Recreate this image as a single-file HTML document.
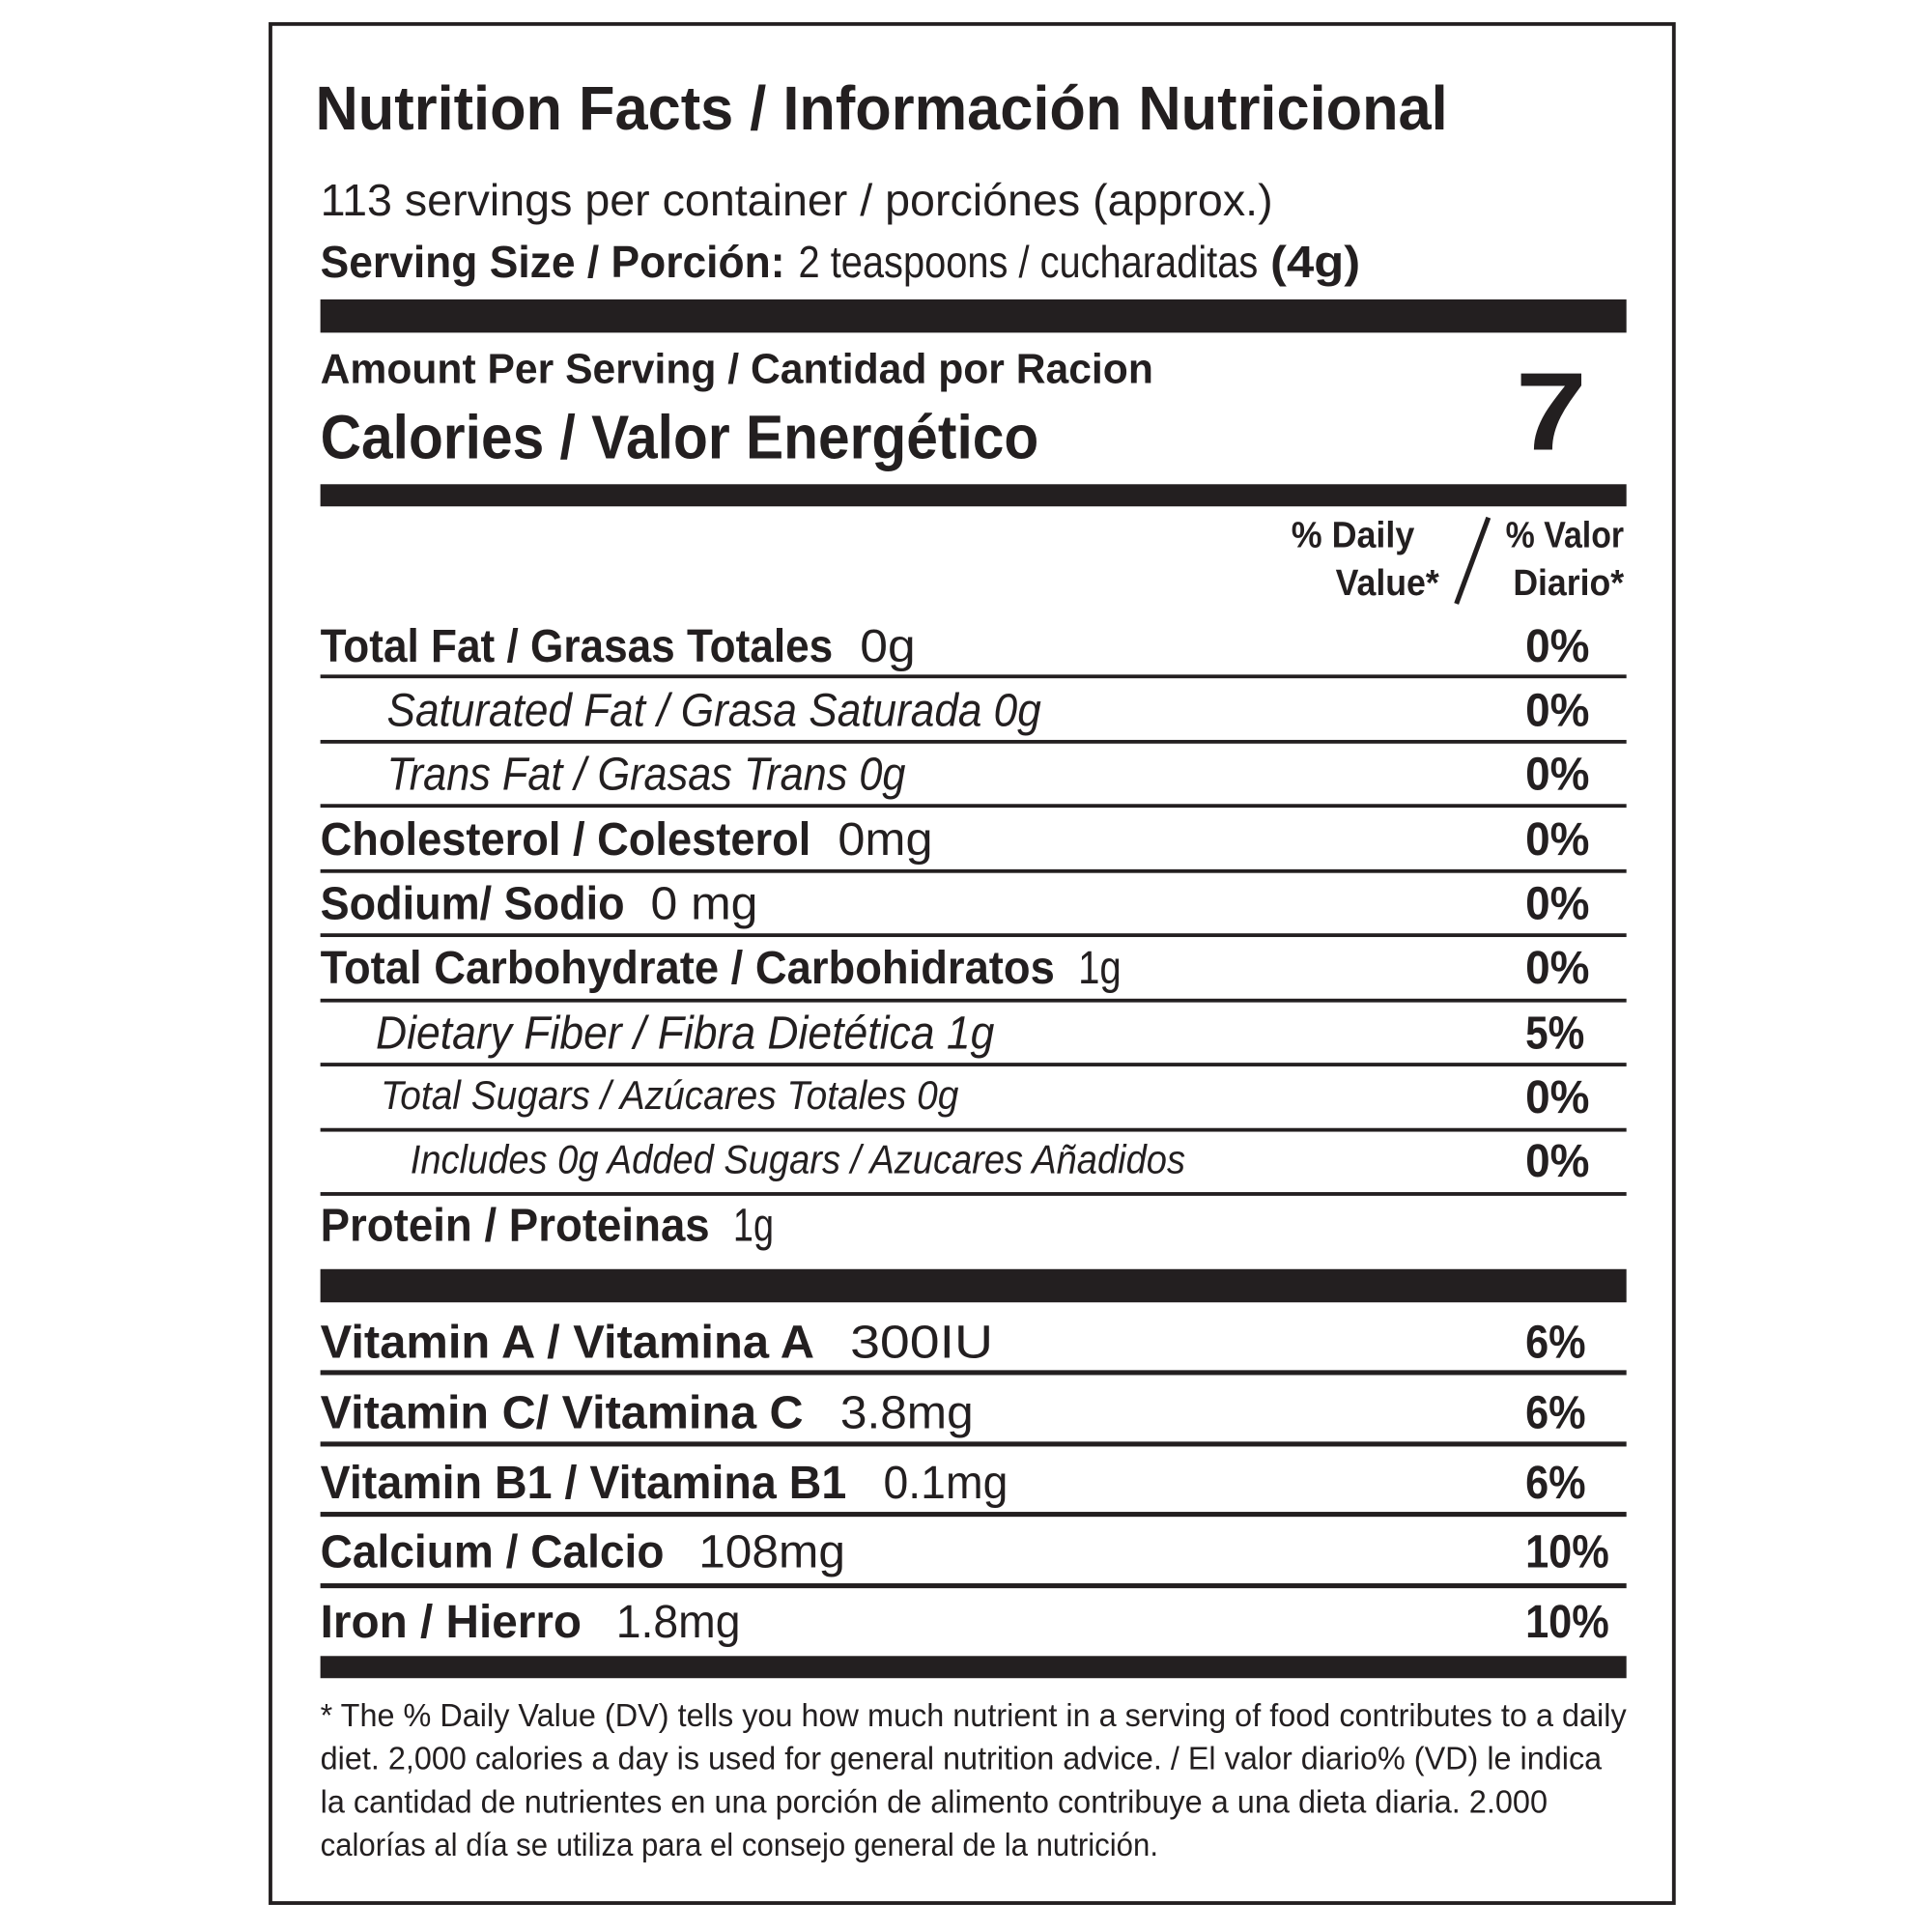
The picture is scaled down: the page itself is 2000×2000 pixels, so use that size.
<!DOCTYPE html>
<html><head><meta charset="utf-8"><style>
html,body{margin:0;padding:0;background:#fff;}
svg{display:block;}
text{font-family:"Liberation Sans",sans-serif;fill:#231f20;}
.b{font-weight:700;}
.i{font-style:italic;}
</style></head><body>
<svg width="2000" height="2000" viewBox="0 0 1568 1568" xmlns="http://www.w3.org/2000/svg">
<rect x="0" y="0" width="1568" height="1568" fill="#fff"/>
<rect x="219.5" y="19.5" width="1139" height="1525" fill="none" stroke="#231f20" stroke-width="3"/>

<text class="b" x="256" y="105" font-size="50" textLength="919" lengthAdjust="spacingAndGlyphs">Nutrition Facts / Información Nutricional</text>
<text x="260" y="175" font-size="36" textLength="773" lengthAdjust="spacingAndGlyphs">113 servings per container / porciónes (approx.)</text>
<text class="b" x="260" y="225" font-size="36" textLength="377" lengthAdjust="spacingAndGlyphs">Serving Size / Porción:</text>
<text x="648" y="225" font-size="36" textLength="373" lengthAdjust="spacingAndGlyphs">2 teaspoons / cucharaditas</text>
<text class="b" x="1031" y="225" font-size="36" textLength="73" lengthAdjust="spacingAndGlyphs">(4g)</text>

<rect x="260" y="243" width="1060" height="27" fill="#231f20"/>
<text class="b" x="260" y="311" font-size="34" textLength="676" lengthAdjust="spacingAndGlyphs">Amount Per Serving / Cantidad por Racion</text>
<text class="b" x="260" y="372" font-size="50" textLength="583" lengthAdjust="spacingAndGlyphs">Calories / Valor Energético</text>
<text class="b" x="1230" y="365" font-size="90" textLength="58" lengthAdjust="spacingAndGlyphs">7</text>
<rect x="260" y="393" width="1060" height="18" fill="#231f20"/>

<text class="b" x="1048" y="444" font-size="30" textLength="100" lengthAdjust="spacingAndGlyphs">% Daily</text>
<text class="b" x="1084" y="483" font-size="30" textLength="84" lengthAdjust="spacingAndGlyphs">Value*</text>
<line x1="1208" y1="420" x2="1182" y2="490" stroke="#231f20" stroke-width="4"/>
<text class="b" x="1222" y="444" font-size="30" textLength="96" lengthAdjust="spacingAndGlyphs">% Valor</text>
<text class="b" x="1228" y="483" font-size="30" textLength="90" lengthAdjust="spacingAndGlyphs">Diario*</text>

<g font-size="38">
<text class="b" x="260" y="537" textLength="416" lengthAdjust="spacingAndGlyphs">Total Fat / Grasas Totales</text>
<text x="698" y="537" textLength="45" lengthAdjust="spacingAndGlyphs">0g</text>
<text class="i" x="314" y="589" textLength="531" lengthAdjust="spacingAndGlyphs">Saturated Fat / Grasa Saturada  0g</text>
<text class="i" x="314" y="641" textLength="421" lengthAdjust="spacingAndGlyphs">Trans Fat / Grasas Trans  0g</text>
<text class="b" x="260" y="694" textLength="398" lengthAdjust="spacingAndGlyphs">Cholesterol / Colesterol</text>
<text x="680" y="694" textLength="77" lengthAdjust="spacingAndGlyphs">0mg</text>
<text class="b" x="260" y="746" textLength="247" lengthAdjust="spacingAndGlyphs">Sodium/ Sodio</text>
<text x="528" y="746" textLength="87" lengthAdjust="spacingAndGlyphs">0 mg</text>
<text class="b" x="260" y="798" textLength="596" lengthAdjust="spacingAndGlyphs">Total Carbohydrate / Carbohidratos</text>
<text x="875" y="798" textLength="35" lengthAdjust="spacingAndGlyphs">1g</text>
<text class="i" x="305" y="851" textLength="502" lengthAdjust="spacingAndGlyphs">Dietary Fiber / Fibra Dietética  1g</text>
<text class="i" x="309" y="900" font-size="33" textLength="469" lengthAdjust="spacingAndGlyphs">Total Sugars / Azúcares Totales  0g</text>
<text class="i" x="333" y="952" font-size="33" textLength="629" lengthAdjust="spacingAndGlyphs">Includes 0g Added Sugars / Azucares Añadidos</text>
<text class="b" x="260" y="1007" textLength="316" lengthAdjust="spacingAndGlyphs">Protein / Proteinas</text>
<text x="595" y="1007" textLength="33" lengthAdjust="spacingAndGlyphs">1g</text>

<text class="b" x="1238" y="537" textLength="52" lengthAdjust="spacingAndGlyphs">0%</text>
<text class="b" x="1238" y="589" textLength="52" lengthAdjust="spacingAndGlyphs">0%</text>
<text class="b" x="1238" y="641" textLength="52" lengthAdjust="spacingAndGlyphs">0%</text>
<text class="b" x="1238" y="694" textLength="52" lengthAdjust="spacingAndGlyphs">0%</text>
<text class="b" x="1238" y="746" textLength="52" lengthAdjust="spacingAndGlyphs">0%</text>
<text class="b" x="1238" y="798" textLength="52" lengthAdjust="spacingAndGlyphs">0%</text>
<text class="b" x="1238" y="851" textLength="48" lengthAdjust="spacingAndGlyphs">5%</text>
<text class="b" x="1238" y="903" textLength="52" lengthAdjust="spacingAndGlyphs">0%</text>
<text class="b" x="1238" y="955" textLength="52" lengthAdjust="spacingAndGlyphs">0%</text>
</g>
<g fill="#231f20">
<rect x="260" y="547.5" width="1060" height="3"/>
<rect x="260" y="600.5" width="1060" height="3"/>
<rect x="260" y="652.5" width="1060" height="3"/>
<rect x="260" y="705.5" width="1060" height="3"/>
<rect x="260" y="757.5" width="1060" height="3"/>
<rect x="260" y="810.5" width="1060" height="3"/>
<rect x="260" y="862.5" width="1060" height="3"/>
<rect x="260" y="915.5" width="1060" height="3"/>
<rect x="260" y="967.5" width="1060" height="3"/>
<rect x="260" y="1030" width="1060" height="27"/>
<rect x="260" y="1112" width="1060" height="4"/>
<rect x="260" y="1170" width="1060" height="4"/>
<rect x="260" y="1227" width="1060" height="4"/>
<rect x="260" y="1285" width="1060" height="4"/>
<rect x="260" y="1344" width="1060" height="18"/>
</g>

<g font-size="38">
<text class="b" x="260" y="1102" textLength="401" lengthAdjust="spacingAndGlyphs">Vitamin A / Vitamina A</text>
<text x="690" y="1102" textLength="116" lengthAdjust="spacingAndGlyphs">300IU</text>
<text class="b" x="260" y="1159" textLength="392" lengthAdjust="spacingAndGlyphs">Vitamin C/ Vitamina C</text>
<text x="682" y="1159" textLength="108" lengthAdjust="spacingAndGlyphs">3.8mg</text>
<text class="b" x="260" y="1216" textLength="427" lengthAdjust="spacingAndGlyphs">Vitamin B1 / Vitamina B1</text>
<text x="717" y="1216" textLength="101" lengthAdjust="spacingAndGlyphs">0.1mg</text>
<text class="b" x="260" y="1272" textLength="279" lengthAdjust="spacingAndGlyphs">Calcium / Calcio</text>
<text x="567" y="1272" textLength="119" lengthAdjust="spacingAndGlyphs">108mg</text>
<text class="b" x="260" y="1329" textLength="212" lengthAdjust="spacingAndGlyphs">Iron / Hierro</text>
<text x="500" y="1329" textLength="101" lengthAdjust="spacingAndGlyphs">1.8mg</text>
<text class="b" x="1238" y="1102" textLength="49" lengthAdjust="spacingAndGlyphs">6%</text>
<text class="b" x="1238" y="1159" textLength="49" lengthAdjust="spacingAndGlyphs">6%</text>
<text class="b" x="1238" y="1216" textLength="49" lengthAdjust="spacingAndGlyphs">6%</text>
<text class="b" x="1238" y="1272" textLength="68" lengthAdjust="spacingAndGlyphs">10%</text>
<text class="b" x="1238" y="1329" textLength="68" lengthAdjust="spacingAndGlyphs">10%</text>
</g>

<g font-size="26">
<text x="260" y="1401" textLength="1060" lengthAdjust="spacingAndGlyphs">* The % Daily Value (DV) tells you how much nutrient in a serving of food contributes to a daily</text>
<text x="260" y="1436" textLength="1040" lengthAdjust="spacingAndGlyphs">diet. 2,000 calories a day is used for general nutrition advice. / El valor diario% (VD) le indica</text>
<text x="260" y="1471" textLength="996" lengthAdjust="spacingAndGlyphs">la cantidad de nutrientes en una porción de alimento contribuye a una dieta diaria. 2.000</text>
<text x="260" y="1506" textLength="680" lengthAdjust="spacingAndGlyphs">calorías al día se utiliza para el consejo general de la nutrición.</text>
</g>
</svg>
</body></html>
